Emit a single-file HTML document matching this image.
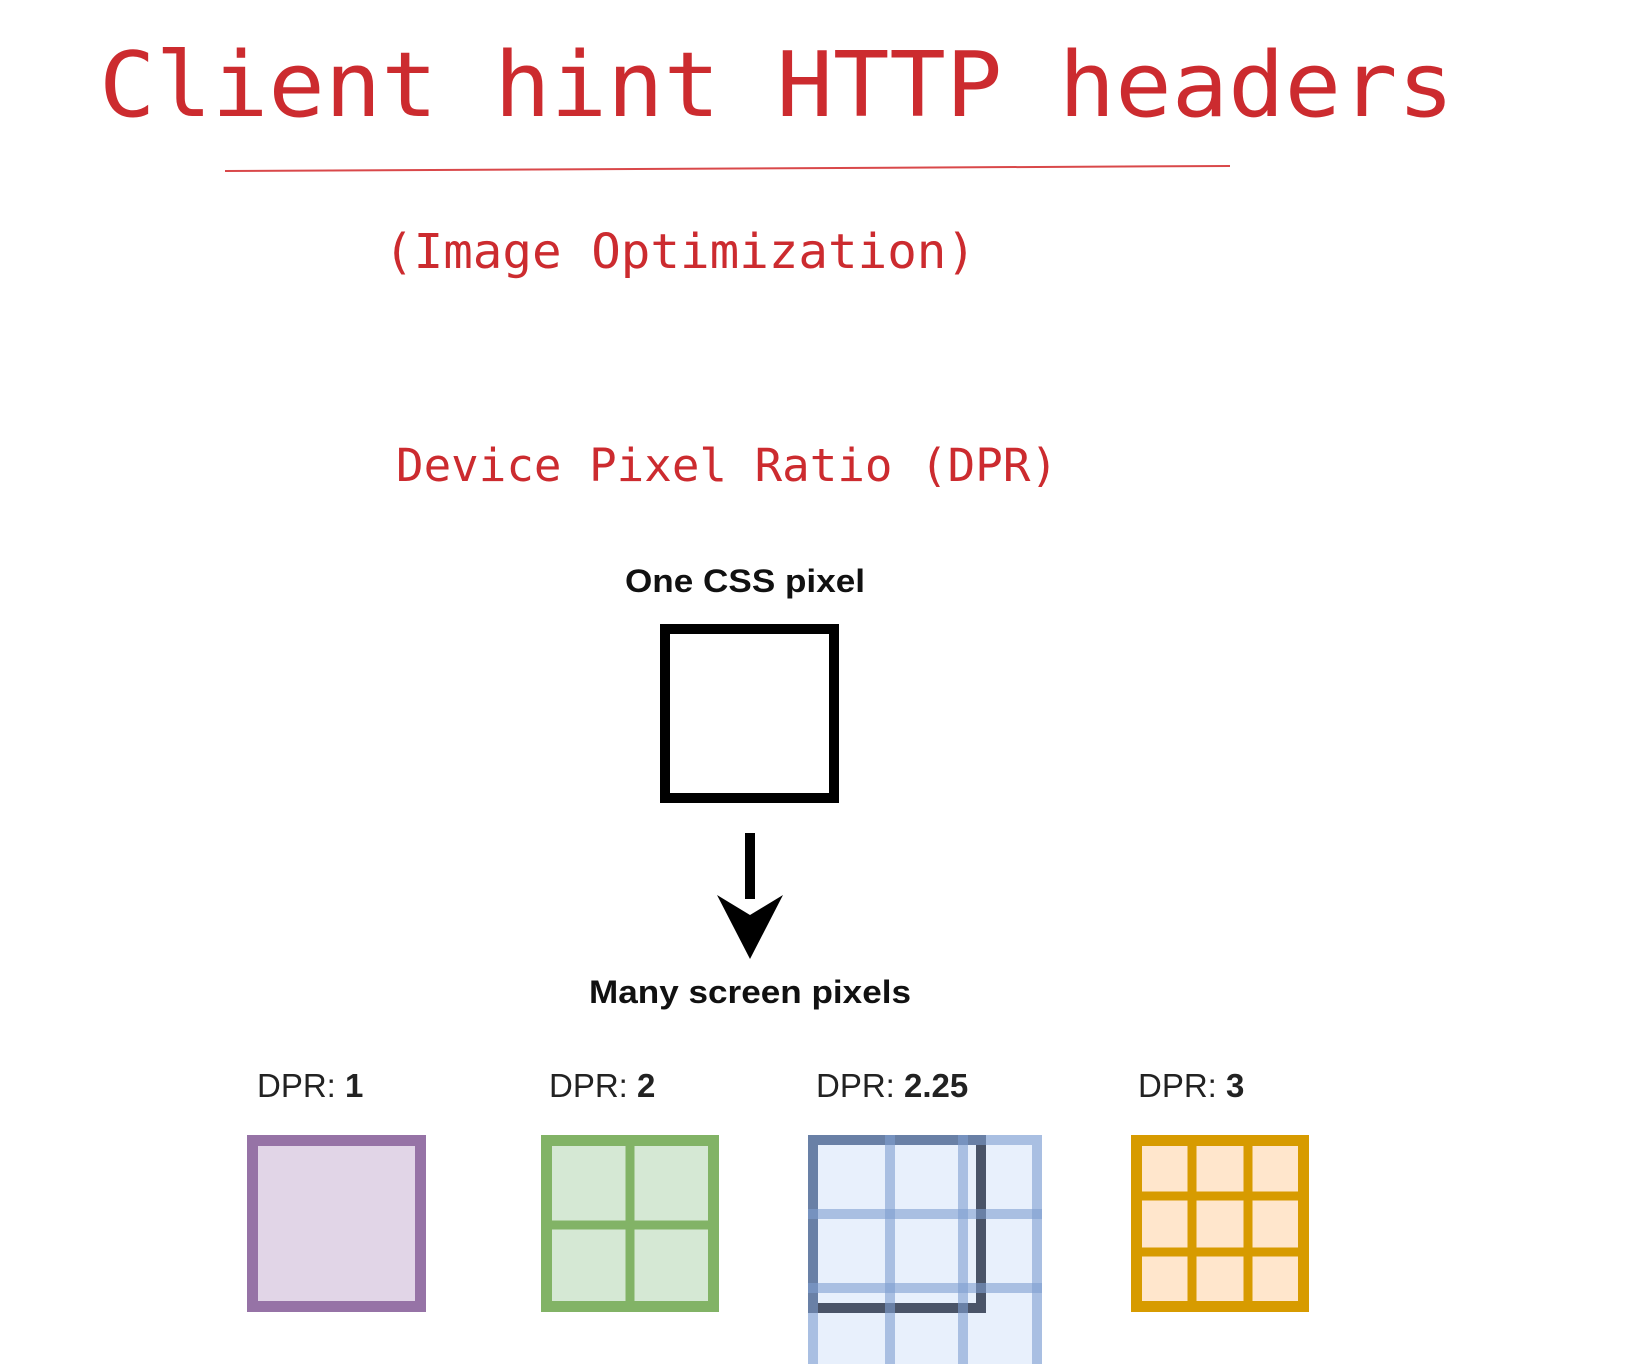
<!DOCTYPE html>
<html><head><meta charset="utf-8"><style>
html,body{margin:0;padding:0;background:#fff;}
svg{display:block;}
</style></head><body>
<svg width="1629" height="1364" viewBox="0 0 1629 1364" xmlns="http://www.w3.org/2000/svg">
<g fill="#cc2b2f" font-family="DejaVu Sans Mono, Liberation Mono, monospace">
<text x="99" y="116" font-size="90" textLength="1355" lengthAdjust="spacingAndGlyphs">Client hint HTTP headers</text>
<text x="384" y="268" font-size="48" textLength="592" lengthAdjust="spacingAndGlyphs">(Image Optimization)</text>
<text x="396" y="481" font-size="45" textLength="662" lengthAdjust="spacingAndGlyphs">Device Pixel Ratio (DPR)</text>
</g>
<line x1="225" y1="171" x2="1230" y2="166" stroke="#d9484a" stroke-width="2"/>
<g font-family="Liberation Sans, sans-serif" fill="#111">
<text x="625" y="592" font-size="32" font-weight="bold" textLength="240" lengthAdjust="spacingAndGlyphs">One CSS pixel</text>
<text x="589" y="1003" font-size="32" font-weight="bold" textLength="322" lengthAdjust="spacingAndGlyphs">Many screen pixels</text>
<g font-size="33" fill="#222">
<text x="257" y="1097">DPR: <tspan font-weight="bold">1</tspan></text>
<text x="549" y="1097">DPR: <tspan font-weight="bold">2</tspan></text>
<text x="816" y="1097">DPR: <tspan font-weight="bold">2.25</tspan></text>
<text x="1138" y="1097">DPR: <tspan font-weight="bold">3</tspan></text>
</g>
</g>
<rect x="665" y="629" width="169" height="169" fill="none" stroke="#000" stroke-width="10"/>
<rect x="745" y="833" width="10" height="66" fill="#000"/>
<polygon points="717,895 750,915 783,895 750,959" fill="#000"/>
<!-- purple -->
<rect x="252.5" y="1140.5" width="168" height="166" fill="#e1d5e7" stroke="#9673a6" stroke-width="11"/>
<!-- green -->
<rect x="546.5" y="1140.5" width="167" height="166" fill="#d5e8d4" stroke="#82b366" stroke-width="11"/>
<line x1="630" y1="1140" x2="630" y2="1307" stroke="#82b366" stroke-width="9"/>
<line x1="546" y1="1225" x2="714" y2="1225" stroke="#82b366" stroke-width="9"/>
<!-- blue -->
<rect x="808" y="1135" width="234" height="240" fill="#e8f0fc"/>
<rect x="813" y="1140" width="168" height="168" fill="none" stroke="#4a5468" stroke-width="10"/>
<g stroke="#7f9fd0" stroke-opacity="0.6" stroke-width="10" fill="none">
<rect x="813" y="1140" width="224" height="240"/>
<line x1="890" y1="1135" x2="890" y2="1364"/>
<line x1="963" y1="1135" x2="963" y2="1364"/>
<line x1="808" y1="1214" x2="1042" y2="1214"/>
<line x1="808" y1="1288" x2="1042" y2="1288"/>
</g>
<!-- orange -->
<rect x="1136.5" y="1140.5" width="167" height="166" fill="#ffe6cc" stroke="#d79b00" stroke-width="11"/>
<g stroke="#d79b00" stroke-width="9">
<line x1="1192" y1="1140" x2="1192" y2="1307"/>
<line x1="1248" y1="1140" x2="1248" y2="1307"/>
<line x1="1136" y1="1196" x2="1304" y2="1196"/>
<line x1="1136" y1="1252" x2="1304" y2="1252"/>
</g>
</svg>
</body></html>
